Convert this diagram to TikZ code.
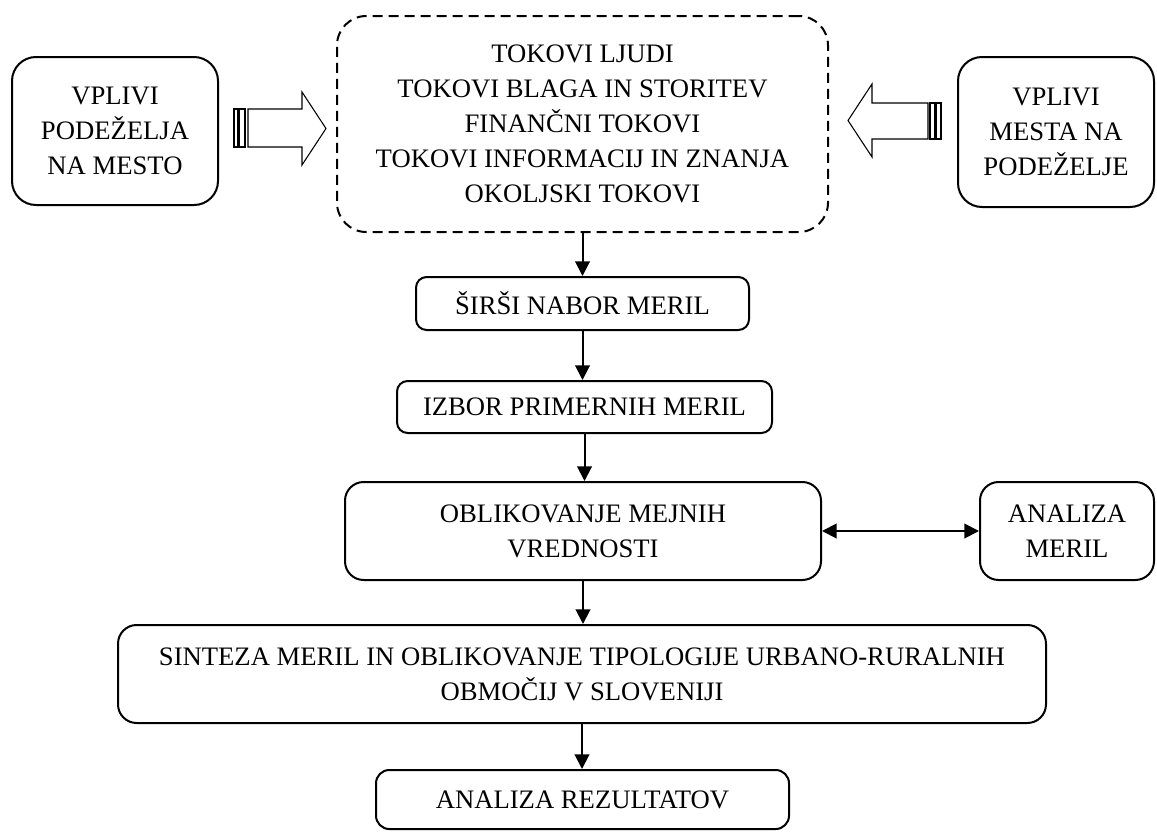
\documentclass[tikz,border=0pt]{standalone}
\usepackage{fontspec}
\setmainfont{Liberation Serif}
\usepackage{tikz}
\usetikzlibrary{arrows.meta,positioning,calc}

\begin{document}
\begin{tikzpicture}[x=0.75pt,y=-0.75pt,
        bx/.style={draw,line width=1.5pt,rounded corners=#1,align=center,
                   inner sep=0pt,font=\fontsize{20}{26.25}\selectfont},
        bx/.default=10pt,
        ar/.style={-{Triangle[length=11pt,width=11pt]},line width=1.5pt},
        blk/.style={draw,line width=0.8pt}]
      \useasboundingbox (0,0) rectangle (1157,832);
      % top row
      \node[bx=18pt,minimum width=154.5pt,minimum height=111pt] (rural) at (115,131)
        {VPLIVI\\PODEŽELJA\\NA MESTO};
      \node[bx=22pt,dashed,dash pattern=on 7.5pt off 4.5pt,
            minimum width=368.25pt,minimum height=162pt] (flows) at (582.5,124)
        {TOKOVI LJUDI\\TOKOVI BLAGA IN STORITEV\\FINANČNI TOKOVI\\
         TOKOVI INFORMACIJ IN ZNANJA\\OKOLJSKI TOKOVI};
      \node[bx=18pt,minimum width=147pt,minimum height=112.5pt] (urban) at (1056,132)
        {VPLIVI\\MESTA NA\\PODEŽELJE};
      % block arrows into the flows box
      \draw[blk] (234,109) rectangle (238,147) (239.5,109) rectangle (245,147);
      \draw[blk] (248,109) -- (302,109) -- (302,92) -- (326,128.5)
                 -- (302,165) -- (302,147) -- (248,147) -- cycle;
      \draw[blk] (936,103) rectangle (941,139) (930,103) rectangle (934.5,139);
      \draw[blk] (928,103) -- (872,103) -- (872,84) -- (848,120.5)
                 -- (872,157) -- (872,139) -- (928,139) -- cycle;
      % main chain
      \node[bx=8pt,minimum width=249.75pt,minimum height=39.75pt] (wide) at (582.5,303.5)
        {ŠIRŠI NABOR MERIL};
      \node[bx=8pt,minimum width=281.25pt,minimum height=39pt] (choice) at (584.5,407)
        {IZBOR PRIMERNIH MERIL};
      \node[bx=14pt,minimum width=357pt,minimum height=73.5pt] (limits) at (583,531)
        {OBLIKOVANJE MEJNIH\\VREDNOSTI};
      \node[bx=14pt,minimum width=130.5pt,minimum height=73.5pt] (check) at (1067,531)
        {ANALIZA\\MERIL};
      \node[bx=14pt,minimum width=696pt,minimum height=73.5pt] (synth) at (582,674)
        {SINTEZA MERIL IN OBLIKOVANJE TIPOLOGIJE URBANO-RURALNIH\\
         OBMOČIJ V SLOVENIJI};
      \node[bx=10pt,minimum width=309.75pt,minimum height=44.25pt] (result) at (582.5,799.5)
        {ANALIZA REZULTATOV};
      \draw[ar] (flows.south) -- (wide.north);
      \draw[ar] (wide.south) -- (choice.north -| wide.south);
      \draw[ar] (choice.south) -- (limits.north -| choice.south);
      \draw[ar] (limits.south) -- (synth.north -| limits.south);
      \draw[ar] (synth.south) -- (result.north -| synth.south);
      \draw[ar,{Triangle[length=11pt,width=11pt]}-{Triangle[length=11pt,width=11pt]}]
        (limits.east) -- (check.west);
    \end{tikzpicture}
\end{document}
